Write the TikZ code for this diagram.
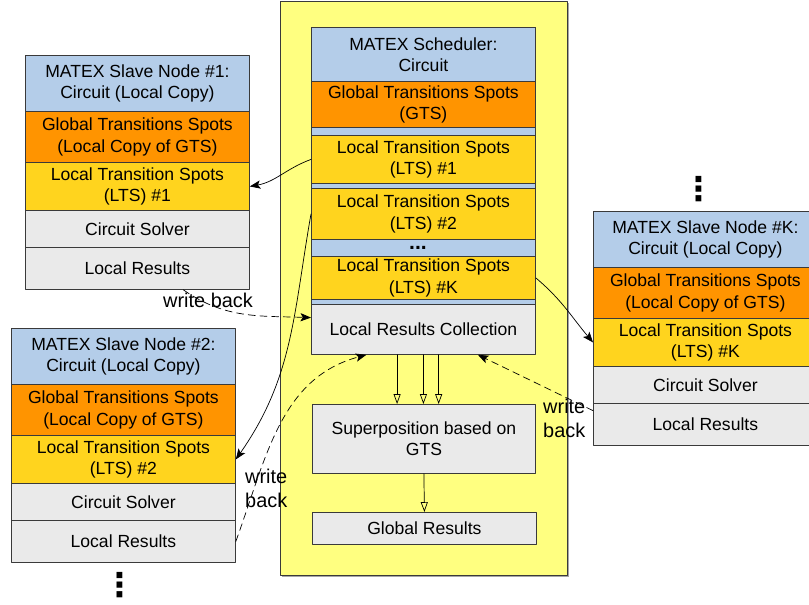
\documentclass[tikz,border=0pt]{standalone}
\usepackage{fontspec}
\setmainfont{Liberation Sans}
\newfontfamily\symbolfont{DejaVu Sans}
\usetikzlibrary{arrows.meta,shadows}
\definecolor{hdrblue}{HTML}{B4CDE9}
\definecolor{gtsorange}{HTML}{FF9400}
\definecolor{ltsyellow}{HTML}{FFD41E}
\definecolor{cellgray}{HTML}{EAEAEA}
\definecolor{schedyellow}{HTML}{FFFF80}
\definecolor{edgegray}{HTML}{3A3A3A}
\begin{document}
\begin{tikzpicture}[x=0.03cm, y=-0.03cm, line cap=round, line join=round, font=\fontsize{15}{18}\selectfont, >={Stealth[length=9pt,width=7pt,inset=2pt]}]
	\tikzset{cell/.style={draw=edgegray, line width=0.7pt, anchor=north west, align=center, inner sep=0pt},
		wh/.style 2 args={minimum width=#1*0.03cm, minimum height=#2*0.03cm},
		lbl/.style={font=\fontsize{17}{20.5}\selectfont, inner sep=0pt, align=left, anchor=west},
		vdotsnode/.style={font=\symbolfont\bfseries\fontsize{28}{28}\selectfont, inner sep=0pt},
		wb/.style={dash pattern=on 6pt off 4pt, line width=0.6pt},
		flow/.style={-{Triangle[open,length=8.5pt,width=6pt]}, line width=0.6pt}}
	\useasboundingbox (0,0) rectangle (809,604);
	% slave nodes
	\foreach \id/\x/\y in {1/25/55, 2/11/328, K/593/211}{
		\node[cell, fill=hdrblue, wh={224}{56}] (slave\id-hdr) at (\x,\y) {MATEX Slave Node \#\id:\\Circuit (Local Copy)};
		\node[cell, fill=gtsorange, wh={224}{51}] (slave\id-gts) at (\x,\y+56) {Global Transitions Spots\\(Local Copy of GTS)};
		\node[cell, fill=ltsyellow, wh={224}{48}] (slave\id-lts) at (\x,\y+107) {Local Transition Spots\\(LTS) \#\id};
		\node[cell, fill=cellgray, wh={224}{37}] (slave\id-cs) at (\x,\y+155) {Circuit Solver};
		\node[cell, fill=cellgray, wh={224}{42}] (slave\id-lr) at (\x,\y+192) {Local Results};
	}
	\node[vdotsnode] (dotsK) at (699,189) {⋮};
	\node[vdotsnode] (dots2) at (120,585) {⋮};
	% scheduler
	\node[cell, fill=schedyellow, wh={287}{574}, drop shadow={shadow xshift=1.2pt, shadow yshift=-1.2pt, opacity=0.35, fill=black}] (sched) at (280,1) {};
	\node[cell, fill=hdrblue, wh={224}{277}] (schedbg) at (311,27) {};
	\node[cell, fill=hdrblue, wh={224}{54}] (schedhdr) at (311,27) {MATEX Scheduler:\\Circuit};
	\node[cell, fill=gtsorange, wh={224}{46}] (gts) at (311,81) {Global Transitions Spots\\(GTS)};
	\node[cell, fill=ltsyellow, wh={224}{48}] (lts1) at (311,135) {Local Transition Spots\\(LTS) \#1};
	\node[cell, fill=ltsyellow, wh={224}{51}] (lts2) at (311,188) {Local Transition Spots\\(LTS) \#2};
	\node[font=\fontsize{18}{18}\selectfont\bfseries, inner sep=0pt] (ltsdots) at (418,248) {...};
	\node[cell, fill=ltsyellow, wh={224}{43}] (ltsK) at (311,256) {Local Transition Spots\\(LTS) \#K};
	\node[cell, fill=cellgray, wh={224}{50}] (lrc) at (311,304) {Local Results Collection};
	\node[cell, fill=cellgray, wh={223}{69}] (superpos) at (312,404) {Superposition based on\\GTS};
	\node[cell, fill=cellgray, wh={224}{32}] (globres) at (312,512) {Global Results};
	\foreach \a in {-136,-90,-59}
		\draw[flow] (lrc.\a) -- (lrc.\a |- superpos.north);
	\draw[flow] (superpos.south) -- (globres.north);
	% distribution of LTS
	\draw[->, line width=0.6pt] (lts1.west) to[out=200, in=10] (slave1-lts.east);
	\draw[->, line width=0.6pt] (lts2.west) to[out=260, in=55] (slave2-lts.east);
	\draw[->, line width=0.6pt] (ltsK.east) to[out=-40, in=130] (slaveK-lts.west);
	% write back
	\draw[->, wb] (slave1-lr.-25) to[out=-35, in=178] (lrc.174);
	\draw[->, wb] (slave2-lr.east) to[out=70, in=195] (lrc.204);
	\draw[->, wb] (slaveK-lr.173) -- (lrc.-25);
	\node[lbl] (wb1) at (163,300) {write back};
	\node[lbl] (wb2) at (245,488) {write\\back};
	\node[lbl] (wbK) at (543,418) {write\\back};
\end{tikzpicture}
\end{document}
